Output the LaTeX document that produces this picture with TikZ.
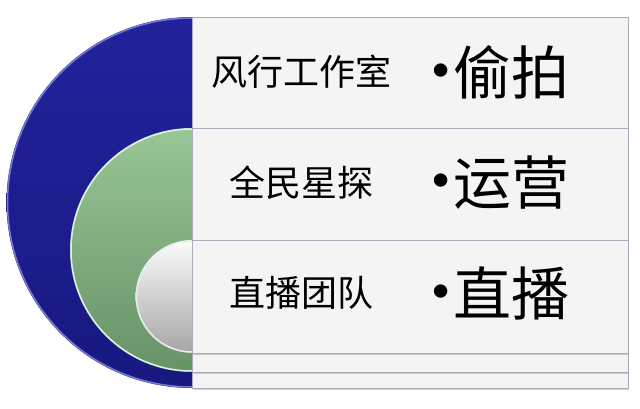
\documentclass[tikz,border=0pt]{standalone}
\usepackage{fontspec}
\newfontfamily\cjk{Noto Sans CJK SC}
\usetikzlibrary{shadows}

\definecolor{tierblue}{RGB}{34,34,156}
\definecolor{tierbluedark}{RGB}{24,24,128}
\definecolor{rimblue}{RGB}{120,120,215}
\definecolor{tiergreen}{RGB}{152,198,150}
\definecolor{tiergreendark}{RGB}{104,146,104}
\definecolor{rimgreen}{RGB}{225,240,225}
\definecolor{tierwhite}{RGB}{252,252,252}
\definecolor{tiergray}{RGB}{165,165,165}
\definecolor{rimwhite}{RGB}{235,235,235}
\definecolor{panelfill}{RGB}{244,244,244}
\definecolor{paneledge}{RGB}{170,170,185}

\tikzset{
  panel/.style={fill=panelfill, draw=paneledge, line width=0.8pt,
    drop shadow={shadow xshift=1pt, shadow yshift=-2pt, opacity=0.35}},
  label/.style={font=\cjk\fontsize{36}{36}\selectfont, inner sep=0pt},
  item/.style={font=\cjk\fontsize{58}{58}\selectfont, inner sep=0pt, anchor=west}
}

\begin{document}
\begin{tikzpicture}[x=1pt,y=1pt]

% Fix the canvas
\useasboundingbox (0,0) rectangle (640,409);

% Define the panel edges
\def\xmid{192}
\def\xend{628}

% Draw the tiers, outer first
\foreach \cy/\r/\topc/\botc/\rim in {206.5/185.5/tierblue/tierbluedark/rimblue,
    159/122/tiergreen/tiergreendark/rimgreen,
    112.5/56.5/tierwhite/tiergray/rimwhite} {
  \shade[top color=\topc, bottom color=\botc] (\xmid,\cy+\r)
    arc[start angle=90, end angle=270, radius=\r] -- cycle;
  \draw[\rim, line width=1.5pt] (\xmid,\cy+\r-1)
    arc[start angle=90, end angle=270, radius=\r-1];
  \draw[panel] (\xmid,\cy-\r) rectangle (\xend,\cy+\r);
}

% Place the texts
\foreach \y/\lab/\txt/\n in {337/风行工作室/偷拍/1, 226/全民星探/运营/2, 116/直播团队/直播/3} {
  \node[label] (lab\n) at (301,\y) {\lab};
  \node[item] (item\n) at (419,\y)
    {{\fontspec{Latin Modern Roman}\fontsize{60}{60}\selectfont\raisebox{8pt}{\textbullet}}\kern-9pt\txt};
}

\end{tikzpicture}
\end{document}
